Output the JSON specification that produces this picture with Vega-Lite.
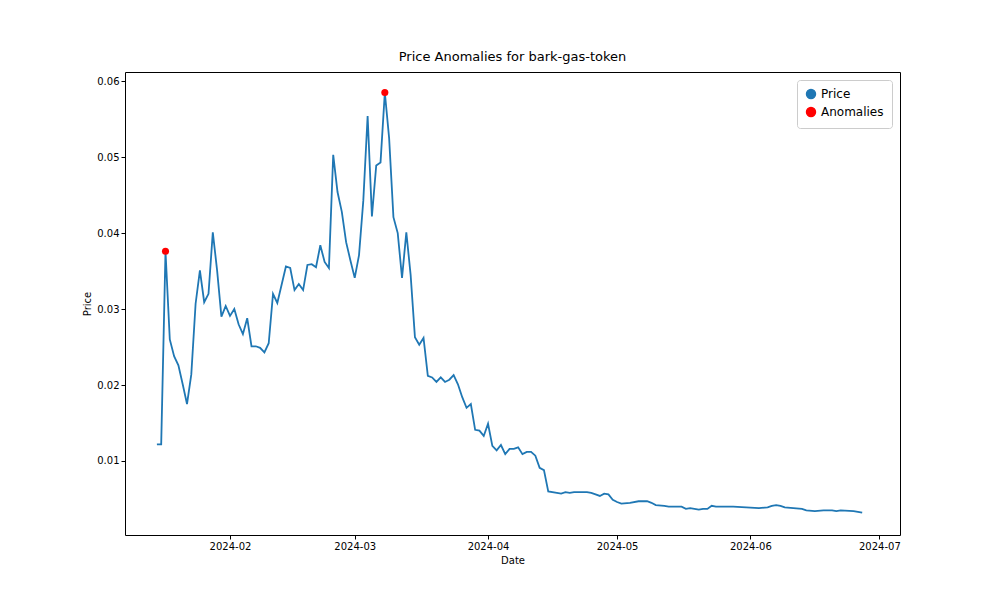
{"$schema":"https://vega.github.io/schema/vega-lite/v6.json","width":775,"height":463,"autosize":"none","padding":{"left":125,"top":72,"right":100,"bottom":65},"background":"white","config":{"font":"DejaVu Sans","view":{"stroke":"black"},"axis":{"grid":false,"domain":false,"tickColor":"black","labelColor":"black","titleColor":"black","labelFontSize":10,"titleFontSize":10,"titleFontWeight":"normal","tickSize":4}},"title":{"text":"Price Anomalies for bark-gas-token","fontSize":13,"fontWeight":"normal","offset":8},
"datasets":{"p":[
{"d":"2024-01-15","v":0.0122},{"d":"2024-01-16","v":0.0122},{"d":"2024-01-17","v":0.0376},{"d":"2024-01-18","v":0.026},{"d":"2024-01-19","v":0.0238},{"d":"2024-01-20","v":0.0226},{"d":"2024-01-21","v":0.0201},{"d":"2024-01-22","v":0.0175},{"d":"2024-01-23","v":0.0214},{"d":"2024-01-24","v":0.0307},{"d":"2024-01-25","v":0.0351},{"d":"2024-01-26","v":0.0309},{"d":"2024-01-27","v":0.032},{"d":"2024-01-28","v":0.0401},{"d":"2024-01-29","v":0.0351},{"d":"2024-01-30","v":0.029},{"d":"2024-01-31","v":0.0304},{"d":"2024-02-01","v":0.0291},{"d":"2024-02-02","v":0.03},{"d":"2024-02-03","v":0.028},{"d":"2024-02-04","v":0.0267},{"d":"2024-02-05","v":0.0288},{"d":"2024-02-06","v":0.0251},{"d":"2024-02-07","v":0.0251},{"d":"2024-02-08","v":0.0249},{"d":"2024-02-09","v":0.0243},{"d":"2024-02-10","v":0.0255},{"d":"2024-02-11","v":0.032},{"d":"2024-02-12","v":0.0308},{"d":"2024-02-13","v":0.0332},{"d":"2024-02-14","v":0.0356},{"d":"2024-02-15","v":0.0354},{"d":"2024-02-16","v":0.0325},{"d":"2024-02-17","v":0.0333},{"d":"2024-02-18","v":0.0325},{"d":"2024-02-19","v":0.0358},{"d":"2024-02-20","v":0.0359},{"d":"2024-02-21","v":0.0355},{"d":"2024-02-22","v":0.0384},{"d":"2024-02-23","v":0.0362},{"d":"2024-02-24","v":0.0354},{"d":"2024-02-25","v":0.0503},{"d":"2024-02-26","v":0.0454},{"d":"2024-02-27","v":0.0428},{"d":"2024-02-28","v":0.0388},{"d":"2024-02-29","v":0.0364},{"d":"2024-03-01","v":0.0341},{"d":"2024-03-02","v":0.0371},{"d":"2024-03-03","v":0.0443},{"d":"2024-03-04","v":0.0554},{"d":"2024-03-05","v":0.0422},{"d":"2024-03-06","v":0.0489},{"d":"2024-03-07","v":0.0493},{"d":"2024-03-08","v":0.0585},{"d":"2024-03-09","v":0.0525},{"d":"2024-03-10","v":0.0421},{"d":"2024-03-11","v":0.04},{"d":"2024-03-12","v":0.0341},{"d":"2024-03-13","v":0.0401},{"d":"2024-03-14","v":0.0345},{"d":"2024-03-15","v":0.0263},{"d":"2024-03-16","v":0.0253},{"d":"2024-03-17","v":0.0262},{"d":"2024-03-18","v":0.0212},{"d":"2024-03-19","v":0.021},{"d":"2024-03-20","v":0.0204},{"d":"2024-03-21","v":0.021},{"d":"2024-03-22","v":0.0204},{"d":"2024-03-23","v":0.0207},{"d":"2024-03-24","v":0.0213},{"d":"2024-03-25","v":0.0201},{"d":"2024-03-26","v":0.0184},{"d":"2024-03-27","v":0.017},{"d":"2024-03-28","v":0.0175},{"d":"2024-03-29","v":0.0141},{"d":"2024-03-30","v":0.014},{"d":"2024-03-31","v":0.0133},{"d":"2024-04-01","v":0.0149},{"d":"2024-04-02","v":0.012},{"d":"2024-04-03","v":0.0114},{"d":"2024-04-04","v":0.0121},{"d":"2024-04-05","v":0.0109},{"d":"2024-04-06","v":0.0116},{"d":"2024-04-07","v":0.0116},{"d":"2024-04-08","v":0.0118},{"d":"2024-04-09","v":0.0109},{"d":"2024-04-10","v":0.0112},{"d":"2024-04-11","v":0.0112},{"d":"2024-04-12","v":0.0107},{"d":"2024-04-13","v":0.0091},{"d":"2024-04-14","v":0.0088},{"d":"2024-04-15","v":0.006},{"d":"2024-04-17","v":0.0058},{"d":"2024-04-18","v":0.0057},{"d":"2024-04-19","v":0.0059},{"d":"2024-04-20","v":0.0058},{"d":"2024-04-21","v":0.0059},{"d":"2024-04-24","v":0.0059},{"d":"2024-04-25","v":0.0058},{"d":"2024-04-26","v":0.0056},{"d":"2024-04-27","v":0.0054},{"d":"2024-04-28","v":0.0057},{"d":"2024-04-29","v":0.0056},{"d":"2024-04-30","v":0.0049},{"d":"2024-05-01","v":0.0046},{"d":"2024-05-02","v":0.0044},{"d":"2024-05-04","v":0.0045},{"d":"2024-05-06","v":0.0047},{"d":"2024-05-08","v":0.0047},{"d":"2024-05-09","v":0.0045},{"d":"2024-05-10","v":0.0042},{"d":"2024-05-12","v":0.0041},{"d":"2024-05-13","v":0.004},{"d":"2024-05-16","v":0.004},{"d":"2024-05-17","v":0.0037},{"d":"2024-05-18","v":0.0038},{"d":"2024-05-20","v":0.0036},{"d":"2024-05-21","v":0.0037},{"d":"2024-05-22","v":0.0037},{"d":"2024-05-23","v":0.0041},{"d":"2024-05-24","v":0.004},{"d":"2024-05-28","v":0.004},{"d":"2024-05-31","v":0.0039},{"d":"2024-06-03","v":0.0038},{"d":"2024-06-05","v":0.0039},{"d":"2024-06-06","v":0.0041},{"d":"2024-06-07","v":0.0042},{"d":"2024-06-08","v":0.0041},{"d":"2024-06-09","v":0.0039},{"d":"2024-06-11","v":0.0038},{"d":"2024-06-13","v":0.0037},{"d":"2024-06-14","v":0.0035},{"d":"2024-06-16","v":0.0034},{"d":"2024-06-18","v":0.0035},{"d":"2024-06-20","v":0.0035},{"d":"2024-06-21","v":0.0034},{"d":"2024-06-22","v":0.0035},{"d":"2024-06-25","v":0.0034},{"d":"2024-06-27","v":0.0032}
],"a":[{"d":"2024-01-17","v":0.0376},{"d":"2024-03-08","v":0.0585}]},
"layer":[
{"data":{"name":"p"},"transform":[{"calculate":"'Price'","as":"s"}],
"mark":{"type":"line","strokeWidth":1.8,"clip":true},
"encoding":{"x":{"field":"d","type":"temporal","scale":{"domain":["2024-01-07T14:00:00","2024-07-05T19:00:00"]},"axis":{"format":"%Y-%m","tickCount":{"interval":"month","step":1},"title":"Date"}},
"y":{"field":"v","type":"quantitative","scale":{"domain":[0.00026,0.0612],"nice":false,"zero":false},"axis":{"values":[0.01,0.02,0.03,0.04,0.05,0.06],"format":".2f","title":"Price"}},
"color":{"field":"s","type":"nominal","scale":{"domain":["Price","Anomalies"],"range":["#1f77b4","red"]},"legend":{"title":null,"orient":"top-right","strokeColor":"#cccccc","fillColor":"white","padding":8,"cornerRadius":3,"labelFontSize":12,"symbolSize":80,"offset":8}}}},
{"data":{"name":"a"},"transform":[{"calculate":"'Anomalies'","as":"s"}],
"mark":{"type":"circle","size":50,"opacity":1},
"encoding":{"x":{"field":"d","type":"temporal"},"y":{"field":"v","type":"quantitative"},"color":{"field":"s","type":"nominal"}}}
]}
